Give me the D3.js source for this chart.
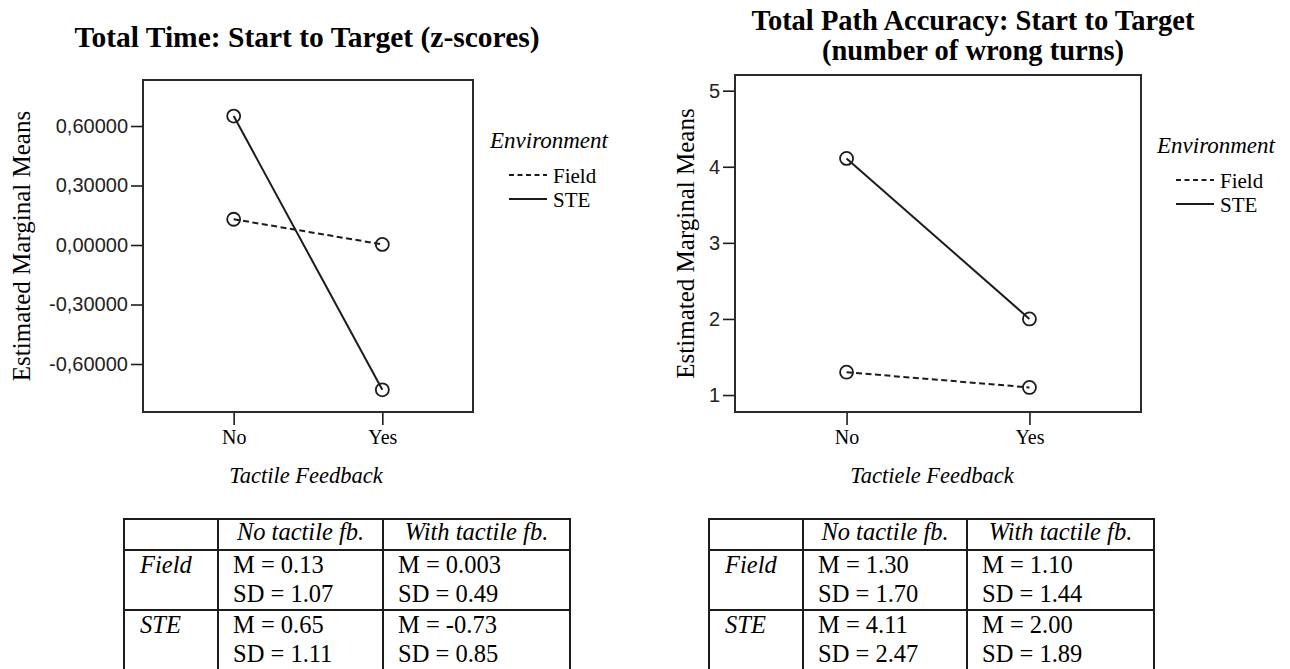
<!DOCTYPE html>
<html>
<head>
<meta charset="utf-8">
<script src="https://cdn.jsdelivr.net/npm/d3@7"></script>
<style>
  body { margin: 0; background: #fff; }
  svg { display: block; }
</style>
</head>
<body>
<svg id="fig" width="1290" height="669"></svg>
<script>
// ---- data ---------------------------------------------------------------
const feedback = ["No", "Yes"];
const environments = ["Field", "STE"];
const tableHeader = ["No tactile fb.", "With tactile fb."];

// Total time, start to target (z-scores)
const timeField = [0.13, 0.003];
const timeSTE = [0.65, -0.73];
const timeFieldSD = [1.07, 0.49];
const timeSTESD = [1.11, 0.85];
const timeTicks = [-0.6, -0.3, 0, 0.3, 0.6];

// Total path accuracy, start to target (number of wrong turns)
const pathField = [1.30, 1.10];
const pathSTE = [4.11, 2.00];
const pathFieldSD = [1.70, 1.44];
const pathSTESD = [2.47, 1.89];
const pathTicks = [1, 2, 3, 4, 5];

// ---- helpers ------------------------------------------------------------
const commaLocale = d3.formatLocale({
  decimal: ",", thousands: ".", grouping: [3], currency: ["", ""], minus: "-"
});
const INK = "#1c1c1c";
const SERIF = "'Liberation Serif', 'Times New Roman', serif";
const SANS = "'Liberation Sans', Arial, sans-serif";

const svg = d3.select("#fig");

const panels = [
  {
    title: ["Total Time: Start to Target (z-scores)"],
    titleX: 307, titleY: [47], titleSize: 29.5,
    frame: { x0: 143, x1: 473, y0: 80, y1: 412 },
    yDomain: [-0.842, 0.832],
    ticks: timeTicks,
    tickFormat: commaLocale.format(".5f"),
    yLabelX: 30,
    xTitle: "Tactile Feedback",
    xTitleX: 306,
    series: [
      { name: environments[0], values: timeField, sd: timeFieldSD, dash: "6,3.5" },
      { name: environments[1], values: timeSTE, sd: timeSTESD, dash: null }
    ],
    meanFormat: d => String(d),
    legend: { x: 490, y: 148 },
    table: [124, 218, 383, 570]
  },
  {
    title: ["Total Path Accuracy: Start to Target", "(number of wrong turns)"],
    titleX: 973, titleY: [30, 60], titleSize: 28.5,
    frame: { x0: 735, x1: 1141, y0: 75, y1: 412 },
    yDomain: [0.777, 5.206],
    ticks: pathTicks,
    tickFormat: d3.format("d"),
    yLabelX: 694,
    xTitle: "Tactiele Feedback",
    xTitleX: 932,
    series: [
      { name: environments[0], values: pathField, sd: pathFieldSD, dash: "6,3.5" },
      { name: environments[1], values: pathSTE, sd: pathSTESD, dash: null }
    ],
    meanFormat: d => d.toFixed(2),
    legend: { x: 1157, y: 153 },
    table: [709, 803, 967, 1154]
  }
];

panels.forEach(p => {
  const f = p.frame;
  const g = svg.append("g");

  const x = d3.scalePoint().domain(feedback).range([f.x0, f.x1]).padding(0.61);
  const y = d3.scaleLinear().domain(p.yDomain).range([f.y1, f.y0]);

  // title, one text element per line
  p.title.forEach((line, i) => {
    g.append("text")
      .attr("x", p.titleX).attr("y", p.titleY[i])
      .attr("text-anchor", "middle")
      .attr("font-family", SERIF)
      .attr("font-weight", "bold")
      .attr("font-size", p.titleSize)
      .attr("fill", "#000")
      .text(line);
  });

  // y axis
  const yAxis = g.append("g")
    .attr("transform", `translate(${f.x0},0)`)
    .call(d3.axisLeft(y).tickValues(p.ticks).tickFormat(p.tickFormat)
      .tickSize(12).tickPadding(3).tickSizeOuter(0));
  yAxis.select(".domain").remove();
  yAxis.selectAll(".tick line").attr("stroke", INK).attr("stroke-width", 1.6);
  yAxis.selectAll(".tick text")
    .attr("font-family", SANS).attr("font-size", 20).attr("fill", "#222");

  // x axis
  const xAxis = g.append("g")
    .attr("transform", `translate(0,${f.y1})`)
    .call(d3.axisBottom(x).tickSize(13).tickPadding(5).tickSizeOuter(0));
  xAxis.select(".domain").remove();
  xAxis.selectAll(".tick line").attr("stroke", INK).attr("stroke-width", 1.6);
  xAxis.selectAll(".tick text")
    .attr("font-family", SERIF).attr("font-size", 20).attr("fill", "#000");

  // frame
  g.append("rect")
    .attr("x", f.x0).attr("y", f.y0)
    .attr("width", f.x1 - f.x0).attr("height", f.y1 - f.y0)
    .attr("fill", "none").attr("stroke", "#2a2a2a").attr("stroke-width", 2);

  // axis titles
  g.append("text")
    .attr("transform", `translate(${p.yLabelX},${(f.y0 + f.y1) / 2}) rotate(-90)`)
    .attr("text-anchor", "middle")
    .attr("font-family", SERIF).attr("font-size", 25).attr("fill", "#000")
    .text("Estimated Marginal Means");

  g.append("text")
    .attr("x", p.xTitleX).attr("y", 483)
    .attr("text-anchor", "middle")
    .attr("font-family", SERIF).attr("font-style", "italic")
    .attr("font-size", 22.5).attr("fill", "#000")
    .text(p.xTitle);

  // lines and markers
  const line = d3.line().x((d, i) => x(feedback[i])).y(d => y(d));
  p.series.forEach(s => {
    g.append("path")
      .datum(s.values)
      .attr("d", line)
      .attr("fill", "none")
      .attr("stroke", INK)
      .attr("stroke-width", 2)
      .attr("stroke-dasharray", s.dash);
    g.selectAll(null)
      .data(s.values)
      .join("circle")
      .attr("cx", (d, i) => x(feedback[i]))
      .attr("cy", d => y(d))
      .attr("r", 6.5)
      .attr("fill", "none")
      .attr("stroke", INK)
      .attr("stroke-width", 1.8);
  });

  // legend
  const L = p.legend;
  g.append("text")
    .attr("x", L.x).attr("y", L.y)
    .attr("font-family", SERIF).attr("font-style", "italic")
    .attr("font-size", 23).attr("fill", "#000")
    .text("Environment");
  p.series.forEach((s, i) => {
    const base = L.y + 35 + i * 24;
    g.append("line")
      .attr("x1", L.x + 19).attr("x2", L.x + 57)
      .attr("y1", base - 8).attr("y2", base - 8)
      .attr("stroke", INK).attr("stroke-width", 2)
      .attr("stroke-dasharray", s.dash ? "5,3.5" : null);
    g.append("text")
      .attr("x", L.x + 63).attr("y", base)
      .attr("font-family", SERIF).attr("font-size", 21).attr("fill", "#000")
      .text(s.name);
  });

  // summary table (M / SD per cell)
  const c = p.table;
  const tg = g.append("g");
  const rowsY = [519, 550, 610];
  rowsY.forEach(yy => {
    tg.append("line").attr("x1", c[0] - 1).attr("x2", c[3] + 1)
      .attr("y1", yy).attr("y2", yy)
      .attr("stroke", INK).attr("stroke-width", 2);
  });
  c.forEach(xx => {
    tg.append("line").attr("x1", xx).attr("x2", xx)
      .attr("y1", 518).attr("y2", 672)
      .attr("stroke", INK).attr("stroke-width", 2);
  });
  tableHeader.forEach((h, j) => {
    tg.append("text")
      .attr("x", (c[j + 1] + c[j + 2]) / 2).attr("y", 540)
      .attr("text-anchor", "middle")
      .attr("font-family", SERIF).attr("font-style", "italic")
      .attr("font-size", 24.5).attr("fill", "#000")
      .text(h);
  });
  p.series.forEach((s, i) => {
    const mBase = 573 + i * 60;
    tg.append("text")
      .attr("x", c[0] + 16).attr("y", mBase)
      .attr("font-family", SERIF).attr("font-style", "italic")
      .attr("font-size", 24.5).attr("fill", "#000")
      .text(s.name);
    s.values.forEach((v, j) => {
      tg.append("text")
        .attr("x", c[j + 1] + 15).attr("y", mBase)
        .attr("font-family", SERIF).attr("font-size", 24.5).attr("fill", "#000")
        .text(`M = ${p.meanFormat(v)}`);
      tg.append("text")
        .attr("x", c[j + 1] + 15).attr("y", mBase + 29)
        .attr("font-family", SERIF).attr("font-size", 24.5).attr("fill", "#000")
        .text(`SD = ${s.sd[j].toFixed(2)}`);
    });
  });
});
</script>
</body>
</html>
